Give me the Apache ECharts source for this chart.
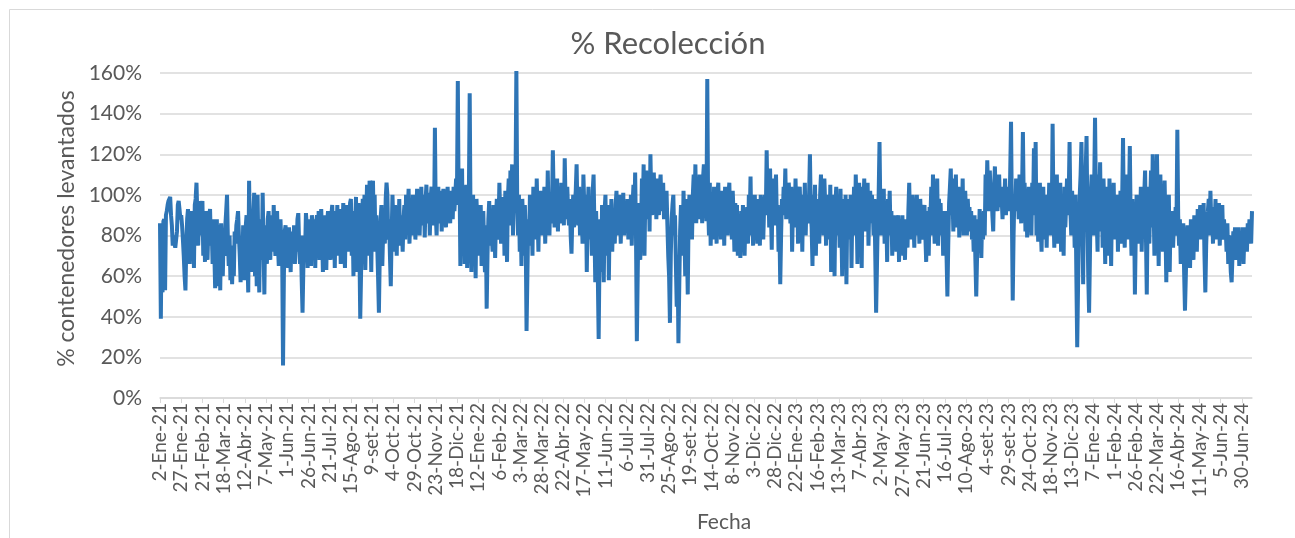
<!DOCTYPE html>
<html>
<head>
<meta charset="utf-8">
<title>% Recolección</title>
<script src="https://cdn.jsdelivr.net/npm/echarts@6/dist/echarts.min.js"></script>
<style>
  html, body { margin: 0; padding: 0; background: #fff; }
  #main { width: 1295px; height: 538px; }
</style>
</head>
<body>
<div id="main"></div>
<script>
var recoleccion = [
  86,39,85,52,87,88,53,90,92,95,97,98,99,90,85,75,80,76,74,78,82,95,97,93,88,
  90,85,78,70,60,53,75,88,93,80,66,85,92,70,85,64,95,98,106,90,75,88,97,80,93,
  97,70,88,67,92,80,68,85,90,93,75,82,66,88,72,54,80,88,55,85,78,53,86,70,60,
  80,70,85,92,100,78,65,80,58,72,56,75,60,82,76,85,88,92,80,70,57,78,62,85,58,
  75,84,90,70,52,107,80,88,62,78,90,101,60,85,55,100,72,52,88,80,68,101,75,51,85,
  78,66,88,92,75,68,85,90,72,95,80,70,86,92,75,65,82,88,76,70,16,60,82,85,70,
  80,64,84,75,62,82,78,70,85,66,80,72,88,91,75,66,80,58,42,65,80,72,91,85,64,
  88,78,85,65,90,82,70,88,64,86,90,76,92,68,85,93,80,62,88,75,90,63,86,92,78,
  85,68,90,95,74,88,64,92,80,95,70,88,93,66,90,82,96,74,64,90,95,80,88,72,96,
  98,70,88,60,92,85,99,62,90,96,75,39,62,85,98,72,100,63,88,105,95,70,107,85,62,
  95,107,80,100,72,90,75,60,42,70,88,95,65,82,90,76,98,106,100,78,88,70,55,80,100,
  85,72,95,88,70,92,80,98,75,90,85,72,88,95,78,100,82,92,103,76,88,96,80,100,85,
  95,78,90,103,84,98,80,96,104,85,92,100,79,97,105,86,94,101,80,98,104,88,96,85,133,
  90,80,98,104,86,95,102,82,97,103,88,100,84,96,104,90,98,86,102,95,88,104,92,100,108,
  100,156,95,110,65,98,113,70,102,66,95,105,64,90,98,150,88,62,95,100,70,92,59,98,85,
  70,92,80,95,65,88,92,75,62,85,44,70,88,97,75,92,80,72,95,88,69,90,98,78,85,
  106,88,76,95,82,99,70,102,90,67,98,108,85,112,93,115,80,100,92,105,162,96,80,100,72,
  90,65,98,85,70,95,80,33,60,88,75,100,82,92,70,104,88,95,78,108,90,72,98,85,102,
  80,96,88,104,76,95,85,112,90,80,100,86,95,122,98,84,104,90,108,82,100,94,86,106,90,
  100,85,118,96,88,104,92,85,98,80,71,90,100,84,96,102,115,92,85,104,80,96,90,76,110,
  95,82,100,62,90,104,78,95,88,70,102,110,84,57,92,75,60,29,70,88,62,95,80,57,92,
  100,70,85,95,58,88,80,98,72,90,84,76,95,102,80,92,85,100,76,94,88,101,80,96,90,
  84,98,78,92,86,100,75,95,105,88,111,80,28,60,90,96,68,85,108,92,115,70,100,112,88,
  95,105,82,120,98,90,104,111,92,100,88,108,96,90,104,110,92,98,106,88,100,94,102,85,70,
  60,37,70,88,95,100,80,90,66,45,70,27,55,82,95,88,70,102,85,60,98,76,51,90,100,
  85,95,78,100,110,92,115,86,104,96,88,110,94,100,86,108,115,90,100,87,157,95,80,106,75,
  92,100,78,104,88,95,76,100,106,84,94,78,102,90,96,75,104,88,98,80,100,106,86,94,78,
  102,90,72,96,85,95,70,88,80,69,92,76,95,84,70,90,86,94,76,100,88,109,80,96,75,
  92,100,80,95,76,98,88,75,100,84,96,78,94,100,90,122,95,105,84,113,92,73,108,96,85,
  100,110,88,95,72,85,56,80,98,90,104,96,113,88,100,92,106,98,86,104,72,95,100,84,108,
  92,100,76,98,104,88,95,72,100,90,106,80,98,94,86,100,120,92,84,65,100,88,105,70,95,
  86,98,76,100,110,90,104,80,108,95,75,100,88,92,78,105,62,98,84,100,60,95,104,80,90,
  96,74,103,85,60,98,90,70,100,56,92,84,98,78,100,64,94,88,104,80,110,92,66,100,106,
  88,98,64,104,94,108,82,100,90,106,75,96,102,86,100,94,80,98,70,42,65,88,100,126,92,
  80,100,88,103,76,96,90,67,98,86,102,80,92,70,85,90,76,88,72,86,90,67,84,88,75,
  90,70,86,68,88,80,74,92,106,85,96,78,100,88,74,96,84,100,80,92,76,98,86,94,78,
  90,95,80,67,92,86,70,94,88,104,80,110,92,76,100,86,108,75,98,88,96,80,92,70,88,
  76,92,70,50,75,96,104,113,90,100,82,108,92,110,84,98,104,79,96,100,86,108,80,96,102,
  90,80,98,88,94,82,92,78,86,72,90,68,50,70,88,76,93,84,69,90,78,92,80,110,96,
  117,100,92,112,98,106,90,82,104,114,96,108,92,100,110,94,104,98,88,102,96,108,90,100,94,
  104,92,110,136,90,48,80,100,92,108,96,104,88,110,98,86,102,131,95,106,82,100,79,96,104,
  88,98,80,106,92,123,90,126,80,100,77,98,106,84,72,96,104,78,92,100,74,98,88,106,80,
  96,88,135,92,74,104,90,110,76,98,86,106,72,100,92,70,104,84,96,108,90,100,126,92,80,
  102,86,96,74,100,60,25,55,80,100,110,126,96,56,104,84,112,129,90,60,42,70,100,110,96,
  80,104,138,100,88,72,110,96,116,82,100,74,108,90,66,104,86,96,70,108,92,65,98,84,106,
  78,94,88,100,72,96,84,102,76,98,128,86,74,100,90,110,78,96,124,88,70,98,80,92,51,
  80,100,88,76,96,84,104,72,92,86,100,112,80,51,90,104,76,96,112,84,120,96,70,108,88,
  120,92,65,100,110,80,96,72,90,107,84,57,92,78,100,62,88,80,92,74,86,80,94,85,132,
  90,75,88,66,82,70,86,62,43,60,78,85,70,82,64,88,76,84,68,90,80,86,72,93,82,
  88,95,78,92,84,96,70,52,75,88,92,98,80,102,86,94,76,90,84,98,78,92,86,96,75,
  90,82,95,78,88,80,84,72,86,66,80,74,62,57,70,82,76,84,68,80,72,84,65,78,82,
  70,84,66,80,76,84,72,86,78,88,82,76,92
];

var meses = ['Ene', 'Feb', 'Mar', 'Abr', 'May', 'Jun', 'Jul', 'Ago', 'set', 'Oct', 'Nov', 'Dic'];
var fechas = [];
var inicio = new Date(2021, 0, 2);
for (var i = 0; i < recoleccion.length; i++) {
    var d = new Date(inicio.getFullYear(), inicio.getMonth(), inicio.getDate() + i);
    fechas.push(d.getDate() + '-' + meses[d.getMonth()] + '-' + String(d.getFullYear()).slice(2));
}

var gris = '#595959';
var chart = echarts.init(document.getElementById('main'));

var option = {
    animation: false,
    backgroundColor: '#fff',
    textStyle: { fontFamily: 'Lato, "Liberation Sans", sans-serif' },
    graphic: [{
        type: 'rect',
        left: 7, top: 7,
        shape: { width: 1286, height: 540 },
        style: { fill: 'none', stroke: '#d9d9d9', lineWidth: 1 },
        silent: true
    }, {
        // title
        type: 'text',
        x: 668, y: 44,
        style: { text: '% Recolección', fill: gris, font: '31px Lato, sans-serif', align: 'center', verticalAlign: 'middle' },
        silent: true
    }, {
        // x axis name
        type: 'text',
        x: 724, y: 522,
        style: { text: 'Fecha', fill: gris, font: '21px Lato, sans-serif', align: 'center', verticalAlign: 'middle' },
        silent: true
    }],
    grid: { left: 160, right: 43, top: 73, bottom: 140 },
    xAxis: {
        type: 'category',
        data: fechas,
        boundaryGap: false,
        axisLine: { lineStyle: { color: '#d9d9d9', width: 1.5 } },
        axisTick: { show: true, interval: 24, length: 5, lineStyle: { color: '#d9d9d9' } },
        axisLabel: { interval: 24, rotate: 90, color: gris, fontSize: 19, margin: 5 },
        splitLine: { show: false }
    },
    yAxis: {
        type: 'value',
        min: 0,
        max: 160,
        interval: 20,
        name: '% contenedores levantados',
        nameLocation: 'middle',
        nameGap: 82,
        nameTextStyle: { color: gris, fontSize: 23, padding: [0, 0, 0, 14] },
        axisLine: { show: false },
        axisTick: { show: false },
        axisLabel: { color: gris, fontSize: 21, margin: 18, formatter: '{value}%' },
        splitLine: { lineStyle: { color: '#d9d9d9', width: 1.5 } }
    },
    series: [{
        name: '% Recolección',
        type: 'line',
        data: recoleccion,
        showSymbol: false,
        clip: true,
        lineStyle: { color: '#2e75b6', width: 4 },
        itemStyle: { color: '#2e75b6' }
    }]
};

chart.setOption(option);
</script>
</body>
</html>
